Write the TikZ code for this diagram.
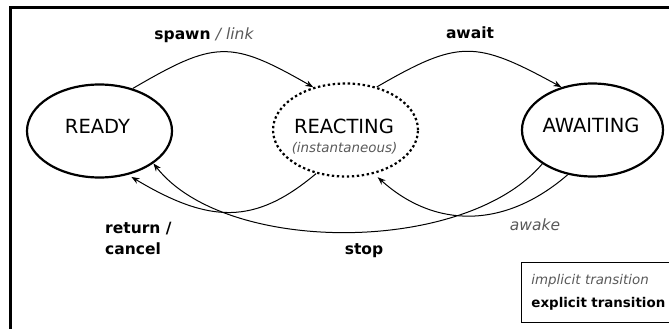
\documentclass[tikz,border=0pt]{standalone}
\usepackage{fontspec}
\setmainfont{DejaVu Sans}
\usetikzlibrary{arrows.meta,shapes.geometric}

\definecolor{implgray}{gray}{0.35}
\newcommand{\impl}[1]{{\color{implgray}\itshape #1}}

\begin{document}
\begin{tikzpicture}[x=1pt,y=-1pt,
    state/.style={draw,ellipse,line width=2.2pt,inner sep=0pt,
                  minimum width=145pt,minimum height=93pt},
    transient/.style={dash pattern=on 2.4pt off 2.6pt},
    statetxt/.style={anchor=base,inner sep=0pt,font=\fontsize{19.5}{23}\selectfont},
    arr/.style={-{Stealth[length=8pt,width=6pt]},line width=1pt},
    lbl/.style={inner sep=0pt,font=\fontsize{15.5}{21.7}\selectfont\bfseries},
    note/.style={inner sep=0pt,font=\fontsize{13.4}{23.3}\selectfont},
]
\useasboundingbox (0,0) rectangle (669,329);
\clip (0,0) rectangle (669,329);

% outer frame
\draw[line width=3pt] (10.5,7.5) rectangle (720,360);

% states
\node[state] (ready) at (99.5,131) {};
\node[state,transient] (react) at (345.5,130) {};
\node[state,minimum width=141pt] (awaiting) at (592.5,130) {};

\node[statetxt] at (97.5,133.3) {READY};
\node[statetxt] at (344,133.3) {REACTING};
\node[note,anchor=base] at (344.5,152.7) {\impl{(instantaneous)}};
\node[statetxt] at (591,132.7) {AWAITING};

% transitions
\draw[arr] (ready.52) .. controls (215,40.5) and (230,39.5) .. (react.127);
\draw[arr] (react.54) .. controls (459,39.5) and (475,40) .. (awaiting.126);
\draw[arr,shorten >=4pt] (react.236) .. controls (255,225) and (210,224) .. (ready.-57);
\draw[arr] (awaiting.214) .. controls (465,255) and (225,255) .. (ready.-31);
\draw[arr,shorten >=5pt] (awaiting.241) .. controls (505,229) and (435,229) .. (react.-57);

% labels
\node[lbl,anchor=base] (spawnlbl) at (204,40) {spawn \impl{\mdseries / link}};
\node[lbl,anchor=base] (awaitlbl) at (470,38.5) {await};
\node[lbl,anchor=north west,align=left] (retlbl) at (105,221.5) {return /\\cancel};
\node[lbl,anchor=base] (stoplbl) at (364,254.3) {stop};
\node[lbl,anchor=base,font=\fontsize{15.5}{21.7}\selectfont] (awakelbl) at (535,230) {\impl{awake}};

% legend
\node[note,draw,line width=0.9pt,anchor=north west,align=left,
      minimum height=60pt,inner xsep=10pt,text width=150pt] (legend) at (521,262)
  {\impl{implicit transition}\\\textbf{explicit transition}};
\end{tikzpicture}
\end{document}
